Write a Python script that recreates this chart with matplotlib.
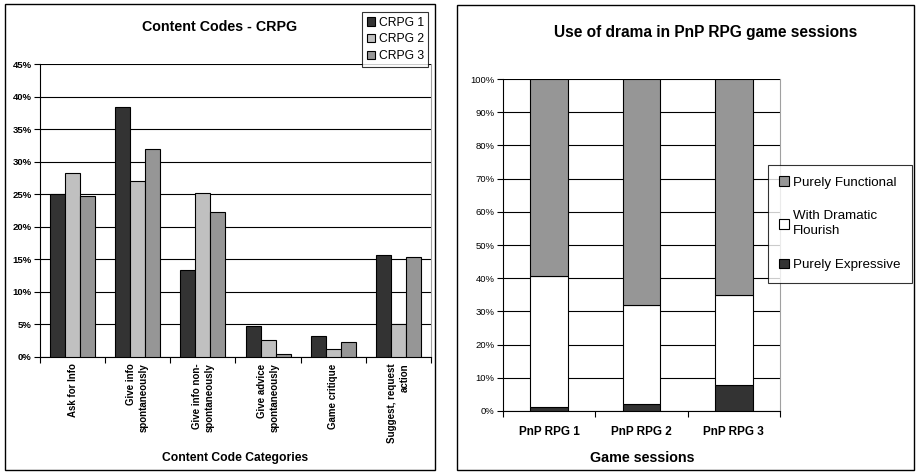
import matplotlib
matplotlib.use("Agg")
import matplotlib.pyplot as plt
import numpy as np
from matplotlib.patches import Rectangle

plt.rcParams['font.family'] = ['Liberation Sans', 'DejaVu Sans']

# ---- Left chart data ----
left_categories = ["Ask for Info", "Give info\nspontaneously", "Give info non-\nspontaneously",
                   "Give advice\nspontaneously", "Game critique", "Suggest, request\naction"]
crpg_series = ["CRPG 1", "CRPG 2", "CRPG 3"]
crpg1 = [25.1, 38.4, 13.3, 4.8, 3.2, 15.7]
crpg2 = [28.2, 27.0, 25.2, 2.6, 1.2, 5.0]
crpg3 = [24.8, 32.0, 22.2, 0.4, 2.3, 15.4]
left_yticks = [0, 5, 10, 15, 20, 25, 30, 35, 40, 45]

# ---- Right chart data ----
right_categories = ["PnP RPG 1", "PnP RPG 2", "PnP RPG 3"]
expressive = [1.3, 2.2, 7.8]
dramatic = [39.5, 29.8, 27.2]
functional = [59.2, 68.0, 65.0]
right_yticks = [0, 10, 20, 30, 40, 50, 60, 70, 80, 90, 100]

W, H = 917, 476
fig = plt.figure(figsize=(W / 100, H / 100), dpi=100)

def fx(px):
    return px / W

def fy(py):
    return 1 - py / H

# panel borders
fig.patches.append(Rectangle((fx(5), fy(470)), fx(430), (466) / H, transform=fig.transFigure,
                             fill=False, edgecolor='black', linewidth=1.0))
fig.patches.append(Rectangle((fx(457), fy(470)), fx(457), (465) / H, transform=fig.transFigure,
                             fill=False, edgecolor='black', linewidth=1.0))

# ================= Left chart =================
axL = fig.add_axes([fx(40), fy(357), fx(391), 293 / H])
n = len(left_categories)
x = np.arange(n)
bw = 0.23
colors_l = ['#333333', '#c0c0c0', '#969696']
for i, (vals, lab) in enumerate(zip([crpg1, crpg2, crpg3], crpg_series)):
    axL.bar(x + (i - 1) * bw, vals, bw, color=colors_l[i], edgecolor='black',
            linewidth=0.8, label=lab, zorder=3)
axL.set_xlim(-0.5, n - 0.5)
axL.set_ylim(0, 45)
axL.set_yticks(left_yticks)
axL.set_yticklabels([f"{v}%" for v in left_yticks], fontsize=6.8, fontweight='bold')
axL.yaxis.grid(True, color='black', linewidth=0.8, zorder=0)
axL.set_axisbelow(True)
axL.set_xticks(x)
axL.set_xticklabels([])
axL.tick_params(axis='x', which='major', length=0)
axL.set_xticks(np.arange(-0.5, n, 1.0), minor=True)
axL.tick_params(axis='x', which='minor', length=4, width=0.8, direction='out')
axL.tick_params(axis='y', length=4, width=0.8, pad=2)
axL.spines['top'].set_visible(False)
axL.spines['right'].set_color('#a0a0a0')
axL.spines['left'].set_linewidth(0.8)
axL.spines['bottom'].set_linewidth(0.8)
for xi, lab in zip(x, left_categories):
    axL.text(xi, -0.022, lab, transform=axL.get_xaxis_transform(), rotation=90,
             ha='center', va='top', multialignment='right', fontsize=7, fontweight='bold',
             linespacing=1.35)
fig.text(fx(235), fy(458), "Content Code Categories", ha='center', va='center',
         fontsize=8.7, fontweight='bold')
fig.text(fx(220), fy(27), "Content Codes - CRPG", ha='center', va='center',
         fontsize=10.3, fontweight='bold')
legL = axL.legend(loc='upper left', bbox_to_anchor=(fx(362), fy(12)),
                  bbox_transform=fig.transFigure, fontsize=8.7, frameon=True, fancybox=False,
                  handlelength=0.7, handleheight=0.7, handletextpad=0.3, labelspacing=0.4,
                  borderpad=0.38, borderaxespad=0)
legL.get_frame().set_edgecolor('black')
legL.get_frame().set_linewidth(0.8)
legL.set_zorder(10)

# ================= Right chart =================
axR = fig.add_axes([fx(503), fy(411), fx(277), 332 / H])
m = len(right_categories)
xr = np.arange(m)
bwr = 0.41
b1 = axR.bar(xr, expressive, bwr, color='#333333', edgecolor='black', linewidth=0.8,
             label='Purely Expressive', zorder=3)
b2 = axR.bar(xr, dramatic, bwr, bottom=expressive, color='white', edgecolor='black',
             linewidth=0.8, label='With Dramatic\nFlourish', zorder=3)
bottom2 = [a + b for a, b in zip(expressive, dramatic)]
b3 = axR.bar(xr, functional, bwr, bottom=bottom2, color='#969696', edgecolor='black',
             linewidth=0.8, label='Purely Functional', zorder=3)
axR.set_xlim(-0.5, m - 0.5)
axR.set_ylim(0, 100)
axR.set_yticks(right_yticks)
axR.set_yticklabels([f"{v}%" for v in right_yticks], fontsize=6.8)
axR.yaxis.grid(True, color='black', linewidth=0.8, zorder=0)
axR.set_axisbelow(True)
axR.set_xticks(xr)
axR.set_xticklabels(right_categories, fontsize=8.5, fontweight='bold')
axR.tick_params(axis='x', which='major', length=0, pad=11)
axR.set_xticks(np.arange(-0.5, m, 1.0), minor=True)
axR.tick_params(axis='x', which='minor', length=4, width=0.8, direction='out')
axR.tick_params(axis='y', length=4, width=0.8, pad=2)
axR.spines['top'].set_visible(False)
axR.spines['right'].set_color('#a0a0a0')
axR.spines['left'].set_linewidth(0.8)
axR.spines['bottom'].set_linewidth(0.8)
fig.text(fx(642), fy(458), "Game sessions", ha='center', va='center',
         fontsize=10.3, fontweight='bold')
fig.text(fx(706), fy(33), "Use of drama in PnP RPG game sessions", ha='center', va='center',
         fontsize=11.2, fontweight='bold')
legR = axR.legend([b3, b2, b1], ['Purely Functional', 'With Dramatic\nFlourish', 'Purely Expressive'],
                  loc='upper left', bbox_to_anchor=(fx(768), fy(165)),
                  bbox_transform=fig.transFigure, fontsize=9.6, frameon=True, fancybox=False,
                  handlelength=0.75, handleheight=0.75, handletextpad=0.3, labelspacing=1.6,
                  borderpad=0.85, borderaxespad=0)
for t in legR.get_texts():
    t.set_linespacing(1.35)
legR.get_frame().set_edgecolor('black')
legR.get_frame().set_linewidth(0.8)
legR.set_zorder(10)

fig.savefig("out.png", dpi=100)
